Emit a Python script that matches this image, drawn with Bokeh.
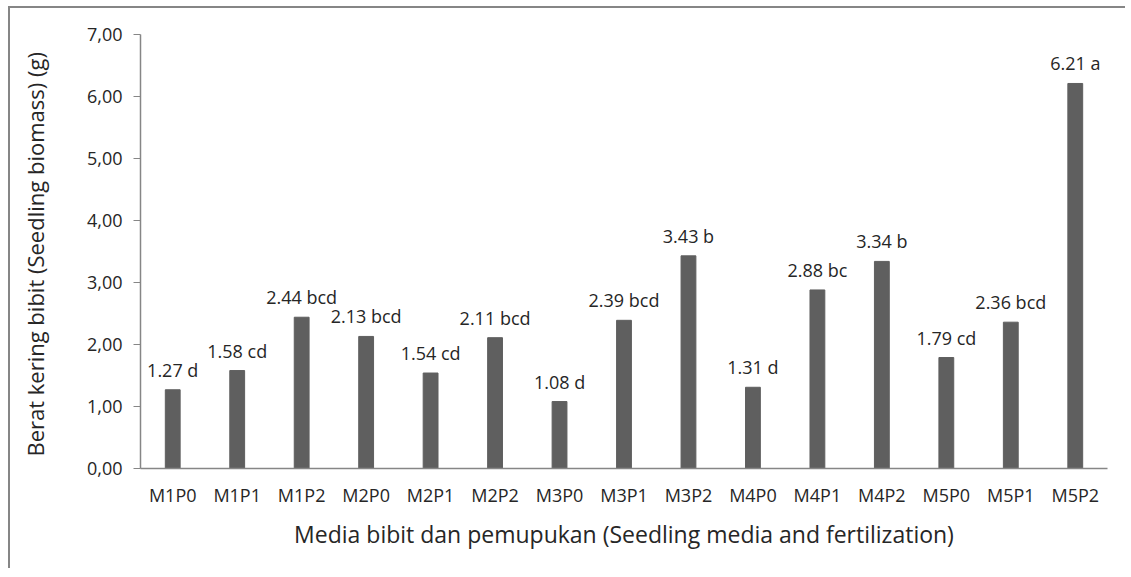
from bokeh.plotting import figure
from bokeh.models import FixedTicker, ColumnDataSource
from bokeh.embed import file_html
from bokeh.resources import INLINE
from bokeh.core.properties import value

categories = ["M1P0", "M1P1", "M1P2", "M2P0", "M2P1", "M2P2", "M3P0", "M3P1",
              "M3P2", "M4P0", "M4P1", "M4P2", "M5P0", "M5P1", "M5P2"]
biomass = [1.27, 1.58, 2.44, 2.13, 1.54, 2.11, 1.08, 2.39,
           3.43, 1.31, 2.88, 3.34, 1.79, 2.36, 6.21]
letters = ["d", "cd", "bcd", "bcd", "cd", "bcd", "d", "bcd",
           "b", "d", "bc", "b", "cd", "bcd", "a"]
y_ticks = [0, 1, 2, 3, 4, 5, 6, 7]
y_tick_labels = ["0,00", "1,00", "2,00", "3,00", "4,00", "5,00", "6,00", "7,00"]

labels = [f"{v:.2f} {l}" for v, l in zip(biomass, letters)]
src = ColumnDataSource(dict(cat=categories, val=biomass, lab=labels))

FONT = "Open Sans"
TXT = "#262626"
AX = "#868686"

p = figure(x_range=categories, y_range=(0, 7), width=1115, height=560,
           output_backend="svg", toolbar_location=None,
           min_border_left=130, min_border_right=18, min_border_top=26,
           min_border_bottom=100)
p.x_range.range_padding = 0
p.frame_width = 967
p.frame_height = 434

p.vbar(x="cat", top="val", width=0.23, source=src, color="#5f5f5f")
p.text(x="cat", y="val", text="lab", source=src, text_align="center",
       text_baseline="alphabetic", y_offset=-20, text_font=value(FONT),
       text_font_size="18px", text_color=TXT)

p.grid.visible = False
p.outline_line_color = None

ya = p.yaxis[0]
ya.ticker = FixedTicker(ticks=y_ticks)
ya.major_label_overrides = {t: s for t, s in zip(y_ticks, y_tick_labels)}
ya.minor_tick_line_color = None
ya.major_tick_in = 0
ya.major_tick_out = 7
ya.axis_line_color = AX
ya.major_tick_line_color = AX
ya.axis_line_width = 1.5
ya.major_label_text_font = FONT
ya.major_label_text_font_size = "18px"
ya.major_label_text_color = TXT
ya.major_label_standoff = 11
ya.axis_label = "Berat  kering bibit (Seedling biomass) (g)"
ya.axis_label_text_font = FONT
ya.axis_label_text_font_size = "22px"
ya.axis_label_text_font_style = "normal"
ya.axis_label_text_color = TXT
ya.axis_label_standoff = 34

xa = p.xaxis[0]
xa.major_tick_line_color = None
xa.minor_tick_line_color = None
xa.axis_line_color = AX
xa.axis_line_width = 1.5
xa.major_label_text_font = FONT
xa.major_label_text_font_size = "18px"
xa.major_label_text_color = TXT
xa.major_label_standoff = 8
xa.axis_label = "Media bibit dan pemupukan (Seedling media and fertilization)"
xa.axis_label_text_font = FONT
xa.axis_label_text_font_size = "23px"
xa.axis_label_text_font_style = "normal"
xa.axis_label_text_color = TXT
xa.axis_label_standoff = 8

p.styles = {"border-top": "2px solid #868686", "border-left": "2px solid #868686",
            "margin-left": "8px", "margin-top": "6px"}

open("out.html", "w").write(file_html(p, INLINE))
